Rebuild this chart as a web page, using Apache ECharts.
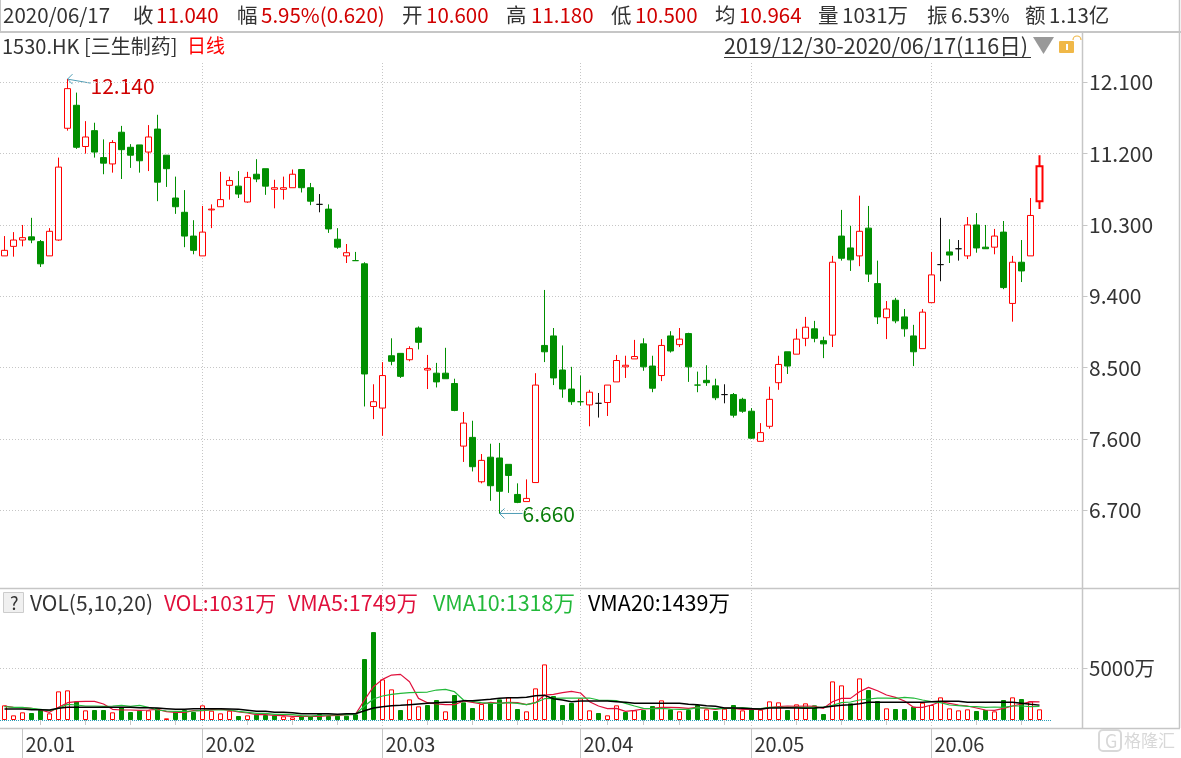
<!DOCTYPE html>
<html>
<head>
<meta charset="utf-8">
<style>html,body{margin:0;padding:0;background:#fff}#main{width:1181px;height:758px}</style>
<script src="https://cdn.jsdelivr.net/npm/echarts@6/dist/echarts.min.js"></script>
</head>
<body>
<div id="main"></div>
<script>
// 1530.HK 三生制药 日线, 2019/12/30-2020/06/17
const opens = [9.91,10.03,10.11,10.15,10.09,9.91,10.11,11.52,11.81,11.29,11.49,11.15,11.07,11.47,11.28,11.31,11.22,11.51,11.18,10.64,10.46,10.16,9.91,10.49,10.53,10.80,10.79,10.59,10.94,11.01,10.75,10.75,10.77,11.00,10.77,10.56,10.50,10.12,9.91,9.85,9.81,8.01,7.99,8.65,8.68,8.60,9.00,8.47,8.43,8.43,8.30,7.51,7.62,7.06,7.37,7.36,7.28,6.90,6.81,7.05,8.78,8.90,8.47,8.23,8.07,8.03,8.05,8.06,8.32,8.51,8.61,8.80,8.52,8.40,8.90,8.79,8.93,8.28,8.34,8.27,8.16,8.16,8.10,7.95,7.57,7.76,8.31,8.70,8.67,8.87,8.99,8.84,8.91,10.16,10.01,9.91,10.26,9.56,9.13,9.35,9.14,8.90,8.74,9.32,9.80,9.96,10.00,9.91,10.30,10.02,10.02,10.21,9.31,9.83,9.91,10.60]
const closes = [9.98,10.11,10.14,10.11,9.81,10.22,11.03,12.02,11.28,11.41,11.22,11.08,11.34,11.25,11.18,11.11,11.41,10.84,11.01,10.53,10.16,9.98,10.21,10.50,10.62,10.86,10.69,10.90,10.88,10.79,10.77,10.77,10.94,10.77,10.60,10.56,10.25,10.02,9.95,9.85,8.42,8.07,8.40,8.58,8.39,8.74,8.82,8.49,8.32,8.36,7.96,7.80,7.25,7.33,7.01,6.94,7.14,6.80,6.85,8.28,8.70,8.37,8.23,8.07,8.07,8.19,8.05,8.28,8.59,8.53,8.64,8.51,8.24,8.78,8.71,8.86,8.51,8.28,8.31,8.12,8.16,7.90,7.95,7.61,7.68,8.10,8.54,8.52,8.86,9.01,8.87,8.80,9.83,9.88,9.86,10.22,9.68,9.14,9.24,9.09,8.99,8.70,9.20,9.67,9.80,9.92,10.00,10.30,10.01,10.00,10.16,9.51,9.83,9.72,10.42,11.04]
const lows = [9.91,9.90,10.03,10.07,9.77,9.91,10.10,11.49,11.26,11.20,11.15,10.94,10.96,10.88,11.02,10.96,10.98,10.60,10.78,10.44,10.02,9.93,9.91,10.26,10.53,10.62,10.64,10.58,10.84,10.68,10.51,10.62,10.77,10.71,10.55,10.46,10.20,10.00,9.82,9.85,8.01,7.85,7.64,8.53,8.37,8.58,8.73,8.23,8.25,8.36,7.95,7.31,7.19,7.04,6.82,6.66,6.92,6.79,6.81,7.05,8.57,8.28,8.12,8.03,8.02,7.76,7.87,7.89,8.32,8.37,8.61,8.46,8.19,8.33,8.69,8.76,8.32,8.19,8.27,8.09,8.05,7.87,7.93,7.60,7.57,7.73,8.22,8.42,8.67,8.77,8.82,8.62,8.76,9.85,9.72,9.78,9.58,9.05,8.86,9.06,8.89,8.52,8.74,9.32,9.59,9.82,9.85,9.87,9.95,10.00,9.93,9.49,9.08,9.58,9.91,10.50]
const highs = [10.16,10.21,10.30,10.39,10.11,10.26,11.15,12.14,11.97,11.61,11.59,11.38,11.37,11.55,11.32,11.31,11.56,11.69,11.18,10.91,10.74,10.36,10.54,10.56,10.97,10.91,10.98,10.97,11.13,11.01,10.87,10.91,11.00,11.00,10.83,10.69,10.56,10.26,10.06,9.96,9.83,8.29,8.57,8.87,8.68,8.77,9.02,8.66,8.56,8.75,8.36,7.94,7.83,7.41,7.54,7.55,7.28,7.04,7.09,8.43,9.48,9.00,8.78,8.51,8.40,8.22,8.18,8.28,8.66,8.65,8.85,8.87,8.65,8.86,8.96,9.00,8.94,8.45,8.53,8.36,8.29,8.18,8.12,7.99,7.80,8.26,8.65,8.70,8.99,9.14,9.09,8.89,9.91,10.49,10.29,10.67,10.54,9.85,9.34,9.38,9.24,9.04,9.24,9.96,10.39,10.12,10.11,10.40,10.45,10.30,10.25,10.35,9.91,10.11,10.64,11.18]
const volumes = [1417,451,741,676,966,644,2769,2866,1803,934,966,966,741,1224,773,902,934,1159,161,805,966,773,1417,902,644,902,386,451,515,483,451,354,258,354,354,580,386,419,419,547,5893,8501,3928,2962,966,1996,1320,1449,1932,837,2415,1707,1159,1546,1707,1996,2190,1063,837,3059,5377,2318,1449,1642,2093,934,676,451,1417,773,934,966,1352,1900,1030,837,966,1449,1030,869,1095,1449,934,1030,998,1803,1707,966,1513,1610,1417,580,3735,3349,1610,4025,2898,1835,1127,1063,1063,1288,1674,1449,2190,1127,934,1030,869,966,837,1932,2190,2029,1803,1031]
const volUp = [1,1,1,0,0,1,1,1,0,1,0,0,1,0,0,0,1,0,1,0,0,0,1,1,1,1,0,1,0,0,0,1,1,0,0,0,0,0,0,0,0,0,1,1,0,1,1,0,0,1,0,0,0,1,0,0,1,0,1,1,1,0,0,0,1,1,0,1,1,0,1,0,0,1,0,1,0,0,1,0,1,0,1,0,1,1,1,0,1,1,0,0,1,1,0,1,0,0,1,0,0,0,1,1,1,1,1,1,0,0,1,0,1,0,1,1]
const vma5 = [1352,1224,1191,1127,966,741,1224,1674,1771,1803,1803,1546,1030,966,966,934,966,1030,805,741,741,902,902,998,1063,934,773,676,515,515,451,419,354,354,354,354,419,451,515,547,1932,3220,3928,4347,4411,3703,2093,1674,1546,1481,1481,1835,1707,1546,1707,1610,1707,1674,1481,1674,2415,2479,2640,2769,2608,1771,1352,1095,1127,837,934,1063,1127,1224,1224,1191,1127,1224,1127,1030,1159,1127,1030,1030,1030,1191,1288,1352,1320,1352,1320,1127,1771,2093,2093,2737,3156,2834,2415,2190,1835,1224,1224,1449,1771,1610,1449,1352,1159,966,934,1127,1352,1546,1771,1749]
const vma10 = [1288,1224,1224,1127,1030,902,1127,1513,1449,1352,1352,1320,1352,1417,1320,1417,1224,966,869,837,837,869,934,966,966,966,837,741,644,644,547,547,515,419,386,451,483,483,515,547,1352,2029,2318,2479,2576,2640,2673,2705,2898,2962,2737,1932,1803,1674,1610,1610,1674,1610,1481,1674,2061,2093,2125,2125,2125,2125,1932,1900,1868,1610,1352,1127,1095,1127,1063,1030,1030,1191,1159,1095,1095,1159,1191,1127,1095,1224,1224,1224,1224,1224,1224,1224,1417,1674,1739,1932,2029,2125,2125,2093,2190,2125,1932,1771,1674,1449,1385,1320,1288,1224,1256,1224,1352,1352,1288,1318]
const vma20 = [1063,1063,1063,998,998,966,1127,1224,1224,1224,1224,1224,1224,1224,1224,1191,1191,1159,1095,1030,1030,1095,1095,1095,1095,1063,1030,934,837,837,741,741,708,612,612,612,612,547,612,612,902,1159,1288,1385,1417,1481,1546,1610,1674,1707,1739,1868,1868,1932,1996,2093,2157,2157,2190,2351,2383,2061,1932,1771,1835,1835,1835,1835,1771,1707,1610,1610,1610,1610,1610,1610,1513,1481,1385,1320,1159,1159,1127,1095,1063,1159,1159,1191,1159,1127,1159,1224,1320,1417,1481,1578,1707,1707,1707,1707,1707,1707,1707,1771,1803,1803,1803,1707,1707,1707,1707,1707,1707,1610,1513,1439]
const priceTicks = [6.7,7.6,8.5,9.4,10.3,11.2,12.1]
const monthIndex = [2,22,42,64,83,103]
const monthNames = ['20.01','20.02','20.03','20.04','20.05','20.06']
const gridIndex = [22,42,64,83,103]
const shortTicks = [4,9,14,19,27,32,37,47,52,57,62,67,71,75,80,88,93,98,108,113]
const greenDoji = [39,64,77]
const redThin = [23]

const RED = '#ff0000'
const GREEN = '#008f00'
const GRAY = '#c6c6c6'
const FONT = '"Noto Sans CJK SC","Liberation Sans",sans-serif'

// 120 slots, the last 4 stay empty on the right
const categories = Array.from({ length: 120 }, (_, i) => String(i))

const candleData = opens.map((o, i) => {
  const item = { value: [o, closes[i], lows[i], highs[i]] }
  if (greenDoji.includes(i)) item.itemStyle = { borderColorDoji: GREEN }
  if (redThin.includes(i)) item.itemStyle = { borderColor: RED }
  if (i === opens.length - 1) item.itemStyle = { borderWidth: 2 }
  return item
})
const volData = volumes.map((v, i) => ({
  value: v,
  itemStyle: volUp[i] ? { color: '#fff', borderColor: RED } : { color: GREEN, borderColor: GREEN }
}))

function label(x, y, text, fill, size) {
  return {
    type: 'text', x, y, silent: true,
    style: { text, fill, font: (size || 20.5) + 'px ' + FONT, textVerticalAlign: 'middle' }
  }
}
function rule(x1, y1, x2, y2, stroke, lineWidth, lineDash) {
  return { type: 'line', silent: true, shape: { x1, y1, x2, y2 }, style: { stroke, lineWidth: lineWidth || 1, lineDash } }
}

const DARK = '#333'
const DRED = '#d00000'
const chrome = [
  rule(0.5, 0, 0.5, 32, GRAY),
  rule(0, 32, 1181, 32, GRAY, 2),
  rule(1082.5, 32, 1082.5, 728, GRAY, 1.5),
  rule(1179.5, 0, 1179.5, 728, GRAY, 1.5),
  rule(0, 588.5, 1180, 588.5, GRAY, 1.5),
  rule(0, 728.5, 1180, 728.5, GRAY, 1.5),
  rule(0, 720.5, 1051, 720.5, '#2a9db8', 1, [1, 1]),

  label(3, 15, '2020/06/17', DARK),
  label(133, 15, '收', DARK), label(156, 15, '11.040', DRED),
  label(237, 15, '幅', DARK), label(261, 15, '5.95%(0.620)', DRED),
  label(402, 15, '开', DARK), label(426, 15, '10.600', DRED),
  label(506, 15, '高', DARK), label(531, 15, '11.180', DRED),
  label(611, 15, '低', DARK), label(635, 15, '10.500', DRED),
  label(715, 15, '均', DARK), label(739, 15, '10.964', DRED),
  label(818, 15, '量', DARK), label(842, 15, '1031万', DARK),
  label(927, 15, '振', DARK), label(951, 15, '6.53%', DARK),
  label(1025, 15, '额', DARK), label(1049, 15, '1.13亿', DARK),

  label(2, 46, '1530.HK [三生制药]', DARK, 20),
  label(187, 46, '日线', RED, 19),
  label(724, 46, '2019/12/30-2020/06/17(116日)', DARK, 21.5),
  rule(724, 57.5, 1031, 57.5, DARK),
  { type: 'polygon', silent: true, shape: { points: [[1033, 37], [1054, 37], [1043.5, 54]] }, style: { fill: '#999' } },
  { type: 'rect', silent: true, shape: { x: 1059, y: 41, width: 15, height: 12, r: 1 }, style: { fill: '#f0b848' } },
  { type: 'rect', silent: true, shape: { x: 1066, y: 44, width: 2, height: 6 }, style: { fill: '#fff' } },
  { type: 'arc', silent: true, shape: { cx: 1077, cy: 40, r: 4, startAngle: Math.PI, endAngle: Math.PI * 2 }, style: { stroke: '#f0b848', fill: null, lineWidth: 1.2 } },

  { type: 'rect', silent: true, shape: { x: 3.5, y: 592.5, width: 20, height: 20 }, style: { fill: '#f0f0f0', stroke: '#ccc' } },
  label(10, 603, '?', DARK, 18),
  label(30, 603, 'VOL(5,10,20)', DARK, 21),
  label(164, 603, 'VOL:1031万', '#e0103c', 21),
  label(288, 603, 'VMA5:1749万', '#e0103c', 21.5),
  label(433, 603, 'VMA10:1318万', '#22b93a', 21.5),
  label(588, 603, 'VMA20:1439万', '#000', 21.5),

  // 水印
  { type: 'rect', silent: true, shape: { x: 1099, y: 730, width: 22, height: 21, r: 4 }, style: { fill: '#fff', stroke: '#d8d8d8', lineWidth: 2 } },
  label(1105, 741, 'G', '#d8d8d8', 18),
  label(1124, 741, '格隆汇', '#d8d8d8', 17)
]

const chart = echarts.init(document.getElementById('main'))
chart.setOption({
  animation: false,
  backgroundColor: '#fff',
  grid: [
    { left: 0, width: 1080, top: 63, height: 524.5 },
    { left: 0, width: 1080, top: 590, height: 138 }
  ],
  xAxis: [
    {
      type: 'category', gridIndex: 0, data: categories, position: 'bottom',
      axisLine: { show: false }, axisTick: { show: false }, axisLabel: { show: false },
      splitLine: { show: true, alignWithLabel: true, interval: i => gridIndex.includes(i), lineStyle: { color: GRAY, type: [1, 2] } }
    },
    {
      type: 'category', gridIndex: 1, data: categories, position: 'bottom',
      axisLine: { show: false }, axisLabel: { show: false },
      axisTick: { show: true, alignWithLabel: true, length: 5, interval: i => shortTicks.includes(i), lineStyle: { color: GRAY } },
      splitLine: { show: true, alignWithLabel: true, interval: i => gridIndex.includes(i), lineStyle: { color: GRAY, type: [1, 2] } }
    },
    {
      type: 'category', gridIndex: 1, data: categories, position: 'bottom',
      axisLine: { show: false },
      axisTick: { show: true, alignWithLabel: true, length: 30, interval: i => monthIndex.includes(i), lineStyle: { color: GRAY } },
      axisLabel: {
        show: true, interval: i => monthIndex.includes(i), align: 'left', margin: 6,
        padding: [0, 0, 0, 3], color: DARK, fontSize: 20, fontFamily: FONT,
        formatter: v => monthNames[monthIndex.indexOf(Number(v))]
      },
      splitLine: { show: false }
    }
  ],
  yAxis: [
    {
      type: 'value', gridIndex: 0, position: 'right', offset: 2.5, scale: true,
      min: 5.726, max: 12.3435,
      axisLine: { show: false },
      axisTick: { show: true, length: 5, customValues: priceTicks, lineStyle: { color: GRAY } },
      axisLabel: {
        show: true, customValues: priceTicks, margin: 6.5, color: DARK, fontSize: 21, fontFamily: FONT,
        formatter: v => v.toFixed(3)
      },
      splitLine: { show: true, customValues: priceTicks, lineStyle: { color: GRAY, type: [1, 2] } }
    },
    {
      // zero sits 8px above the bottom axis line
      type: 'value', gridIndex: 1, position: 'right', offset: 2.5, min: -773, max: 12571,
      axisLine: { show: false },
      axisTick: { show: true, length: 5, customValues: [5000], lineStyle: { color: GRAY } },
      axisLabel: {
        show: true, customValues: [5000], margin: 6.5, color: DARK, fontSize: 20.5, fontFamily: FONT,
        formatter: v => v + '万'
      },
      splitLine: { show: true, customValues: [5000], lineStyle: { color: GRAY, type: [1, 2] } }
    }
  ],
  series: [
    {
      type: 'candlestick', name: '日线', xAxisIndex: 0, yAxisIndex: 0, barWidth: 6,
      data: candleData,
      itemStyle: {
        color: '#fff', color0: GREEN, borderColor: RED, borderColor0: GREEN,
        borderColorDoji: '#111', borderWidth: 1
      }
    },
    { type: 'bar', name: 'VOL', xAxisIndex: 1, yAxisIndex: 1, barWidth: 5, data: volData, itemStyle: { borderWidth: 1 } },
    { type: 'line', name: 'VMA5', xAxisIndex: 1, yAxisIndex: 1, data: vma5, showSymbol: false, lineStyle: { color: '#e0103c', width: 1.2 } },
    { type: 'line', name: 'VMA10', xAxisIndex: 1, yAxisIndex: 1, data: vma10, showSymbol: false, lineStyle: { color: '#22b93a', width: 1.2 } },
    { type: 'line', name: 'VMA20', xAxisIndex: 1, yAxisIndex: 1, data: vma20, showSymbol: false, lineStyle: { color: '#000', width: 1.5 } }
  ],
  graphic: chrome
})

// 最高最低价标注, 位置跟着坐标轴走
function note(index, price, dy, textDy, text, color) {
  const p = chart.convertToPixel({ xAxisIndex: 0, yAxisIndex: 0 }, [index, price])
  const tx = p[0] + 23, ty = p[1] + dy
  return [
    rule(p[0], p[1], tx, ty, '#4f9db5'),
    rule(p[0], p[1], p[0] + 5, p[1] - 5, '#4f9db5'),
    rule(p[0], p[1], p[0] + 5, p[1] + 5, '#4f9db5'),
    label(tx, ty + textDy, text, color, 21)
  ]
}
chart.setOption({
  graphic: chrome.concat(note(7, 12.14, 4, 3, '12.140', '#d00000'), note(55, 6.66, 0, 1, '6.660', '#0a7d0a'))
})
</script>
</body>
</html>
